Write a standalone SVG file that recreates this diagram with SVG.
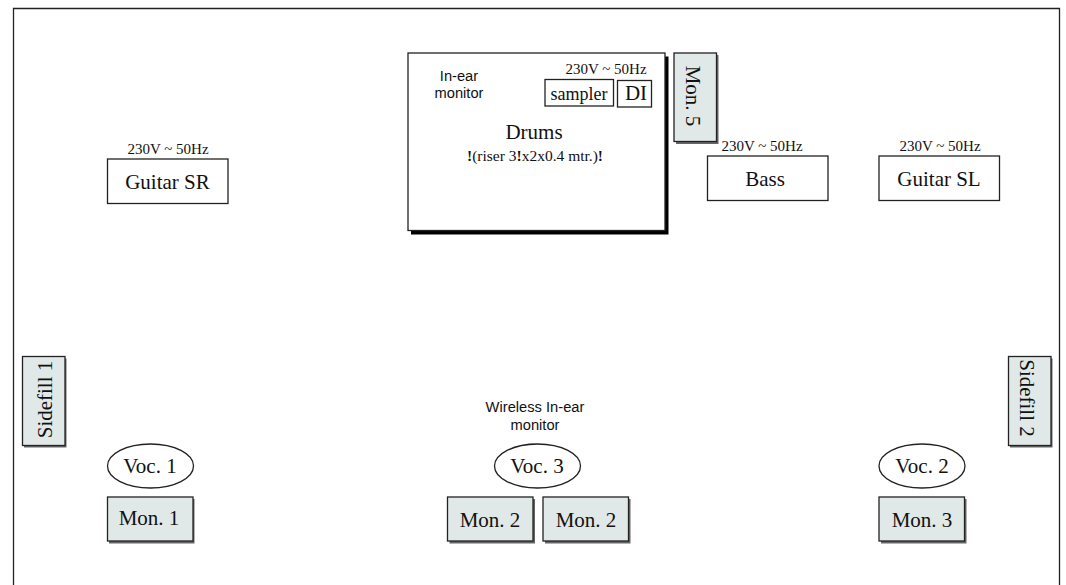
<svg xmlns="http://www.w3.org/2000/svg" width="1066" height="585" viewBox="0 0 1066 585">
<style>
text{font-family:"Liberation Serif","Times New Roman",serif;fill:#111;text-anchor:middle}
.b{fill:#fff;stroke:#222;stroke-width:1.3}
.g{fill:#e1e8e8;stroke:#222;stroke-width:1.3}
.s{fill:#666}
.l{font-size:21px}
.m{font-size:18px}
.v{font-size:15px}
.r{font-size:15.500px}
.a{font-family:"Liberation Sans",Arial,sans-serif;font-size:14.700px}
</style>
<rect width="1066" height="585" fill="#fff"/>
<g id="frame"><path d="M13.500 585V8.500H1059.500V585" fill="none" stroke="#222" stroke-width="1.300"/></g>
<g id="connectors"></g>
<g id="drums">
<rect x="411" y="56.500" width="257.500" height="178" fill="#000"/>
<rect class="b" x="408" y="53" width="257" height="177.500"/>
<text class="a" x="459" y="80.500">In-ear</text>
<text class="a" x="459" y="98">monitor</text>
<text class="v" x="606" y="73.500">230V ~ 50Hz</text>
<text class="l" x="534" y="138.500">Drums</text>
<text class="r" x="535" y="161">
<tspan font-weight="bold">!</tspan>(riser 3<tspan font-weight="bold">!</tspan>x2x0.4 mtr.)<tspan font-weight="bold">!</tspan></text>
</g>
<g id="sampler"><rect class="b" x="545" y="79.500" width="68.500" height="26.500"/><text class="m" x="579" y="100">sampler</text></g>
<g id="di"><rect class="b" x="617.500" y="80.500" width="34" height="26.500"/><text class="l" x="636" y="100">DI</text></g>
<g id="mon5"><rect class="s" x="676" y="55" width="42.500" height="89"/><rect class="g" x="674" y="53" width="42.500" height="88.500"/><text class="l" transform="translate(686 96) rotate(90)">Mon. 5</text></g>
<g id="guitar-sr"><text class="v" x="168" y="153.500">230V ~ 50Hz</text><rect class="b" x="107.500" y="159" width="120.500" height="44.500"/><text class="l" x="167.500" y="188.500">Guitar SR</text></g>
<g id="bass"><text class="v" x="762" y="150.500">230V ~ 50Hz</text><rect class="b" x="707.500" y="156" width="120.500" height="44.500"/><text class="l" x="765" y="185.500">Bass</text></g>
<g id="guitar-sl"><text class="v" x="940" y="150.500">230V ~ 50Hz</text><rect class="b" x="879" y="156" width="120.500" height="44.500"/><text class="l" x="939" y="185.500">Guitar SL</text></g>
<g id="sidefill1"><rect class="s" x="24" y="358.500" width="42.500" height="89"/><rect class="g" x="22.500" y="356.500" width="42.500" height="89"/><text class="l" transform="translate(51.500 399.500) rotate(-90)">Sidefill 1</text></g>
<g id="sidefill2"><rect class="s" x="1010" y="358.500" width="42.500" height="89"/><rect class="g" x="1008.500" y="356.500" width="42.500" height="89"/><text class="l" transform="translate(1020 398) rotate(90)">Sidefill 2</text></g>
<g id="voc1"><ellipse class="b" cx="150.500" cy="466" rx="43" ry="22"/><text class="l" x="150" y="473">Voc. 1</text></g>
<g id="voc3"><text class="a" x="535" y="411.500">Wireless In-ear</text><text class="a" x="535" y="430">monitor</text><ellipse class="b" cx="537.500" cy="466" rx="43" ry="22"/><text class="l" x="537" y="473">Voc. 3</text></g>
<g id="voc2"><ellipse class="b" cx="922" cy="466" rx="43" ry="22"/><text class="l" x="922" y="473">Voc. 2</text></g>
<g id="mon1"><rect class="s" x="109" y="499" width="85.500" height="44.500"/><rect class="g" x="107.500" y="497" width="85.500" height="44"/><text class="l" x="149" y="524.500">Mon. 1</text></g>
<g id="mon2a"><rect class="s" x="449.500" y="499" width="85.500" height="44.500"/><rect class="g" x="447.500" y="497" width="85.500" height="44"/><text class="l" x="490" y="527">Mon. 2</text></g>
<g id="mon2b"><rect class="s" x="545" y="499" width="85.500" height="44.500"/><rect class="g" x="543" y="497" width="85.500" height="44"/><text class="l" x="586" y="527">Mon. 2</text></g>
<g id="mon3"><rect class="s" x="881" y="499" width="85.500" height="44.500"/><rect class="g" x="879" y="497" width="85.500" height="44"/><text class="l" x="922" y="527">Mon. 3</text></g>
</svg>
